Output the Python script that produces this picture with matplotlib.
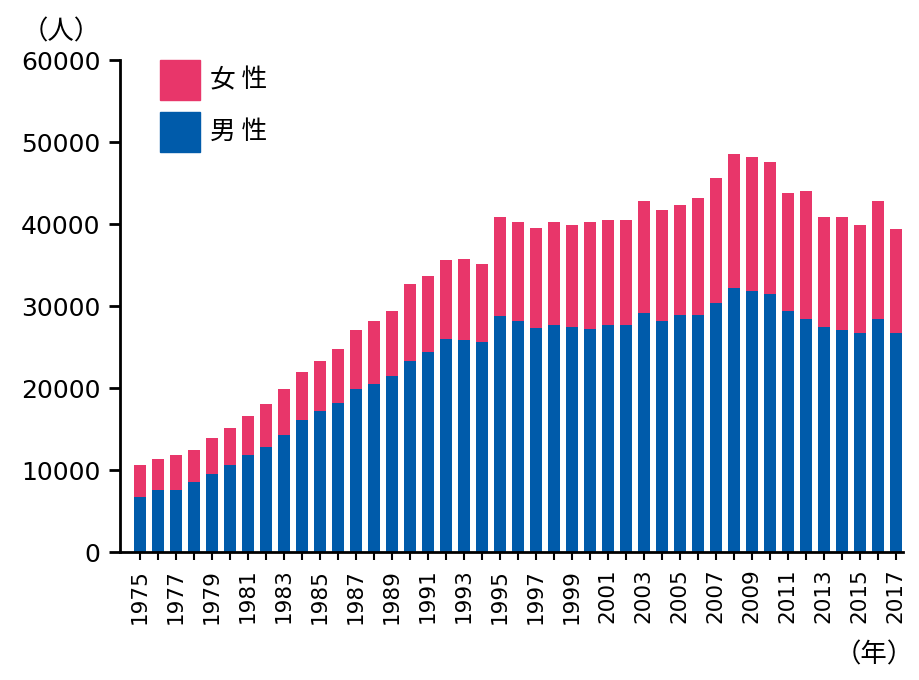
import numpy as np
import matplotlib.pyplot as plt

plt.rcParams['font.family'] = ['Noto Sans CJK JP', 'DejaVu Sans']

# 年ごとの人数（読み取り値）
years = list(range(1975, 2018))
total = [10550, 11370, 11810, 12470, 13850, 15070, 16540, 18000, 19880, 21910,
         23340, 24810, 27090, 28110, 29370, 32710, 33690, 35560, 35720, 35110,
         40900, 40290, 39470, 40290, 39880, 40290, 40540, 40540, 42770, 41760,
         42370, 43180, 45660, 48560, 48150, 47540, 43840, 44040, 40900, 40900,
         39880, 42770, 39430]
male = [6680, 7620, 7620, 8510, 9490, 10550, 11810, 12790, 14260, 16130,
        17170, 18170, 19840, 20450, 21470, 23340, 24360, 26030, 25820, 25580,
        28740, 28130, 27290, 27660, 27460, 27250, 27660, 27660, 29130, 28110,
        28880, 28880, 30340, 32180, 31810, 31410, 29370, 28470, 27410, 27050,
        26680, 28470, 26680]
female = [t - m for t, m in zip(total, male)]

pink = '#E8366A'
blue = '#005BAA'

fig = plt.figure(figsize=(9.2, 6.8), dpi=100)
ax = fig.add_axes([120 / 920, 128 / 680, 783 / 920, 492 / 680])

x = np.arange(len(years))
ax.bar(x, male, width=0.67, color=blue)
ax.bar(x, female, width=0.67, bottom=male, color=pink)

ax.set_xlim(-1.11, 42.4)
ax.set_ylim(0, 60000)
ax.set_yticks(range(0, 60001, 10000))
ax.set_yticklabels([str(v) for v in range(0, 60001, 10000)],
                   fontsize=18, family='DejaVu Sans')
ax.set_xticks(x)
ax.set_xticklabels([str(y) if (y - 1975) % 2 == 0 else '' for y in years],
                   rotation=90, fontsize=15.5, family='DejaVu Sans')

for s in ['top', 'right']:
    ax.spines[s].set_visible(False)
for s in ['left', 'bottom']:
    ax.spines[s].set_linewidth(2)
ax.tick_params(axis='y', length=8, width=2, pad=6)
ax.tick_params(axis='x', length=6, width=1.5, pad=6)

# 凡例
fig.patches.append(plt.Rectangle((160 / 920, 1 - 100 / 680), 40 / 920, 40 / 680,
                                 transform=fig.transFigure, color=pink))
fig.patches.append(plt.Rectangle((160 / 920, 1 - 152 / 680), 40 / 920, 40 / 680,
                                 transform=fig.transFigure, color=blue))
fig.text(210 / 920, 1 - 80 / 680, '女 性', fontsize=18.5, va='center')
fig.text(210 / 920, 1 - 132 / 680, '男 性', fontsize=18.5, va='center')

fig.text(22 / 920, 1 - 32 / 680, '（人）', fontsize=19, va='center')
fig.text(914 / 920, 1 - 655 / 680, '（年）', fontsize=19, va='center', ha='right')

plt.savefig('out.png', dpi=100)
